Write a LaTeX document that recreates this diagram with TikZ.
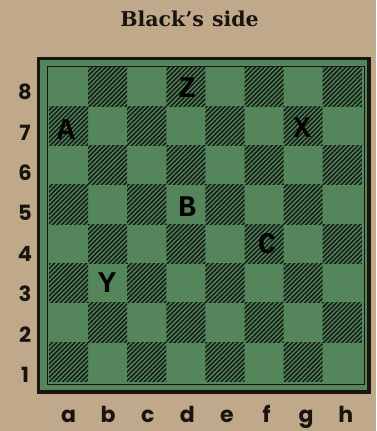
\documentclass[tikz,border=0pt]{standalone}
\usepackage{fontspec}
\usetikzlibrary{patterns.meta}
\newfontfamily\titlefont{DejaVu Serif}
\newfontfamily\labelfont{Poppins}
\newfontfamily\piecefont{Liberation Mono}
\definecolor{paper}{HTML}{BFA98A}
\definecolor{boardgreen}{HTML}{55855A}
\definecolor{hatch}{HTML}{141E16}
\definecolor{ink}{HTML}{1A1410}
\begin{document}
\begin{tikzpicture}[x=1pt,y=-1pt,
  darksq/.style={pattern={Lines[angle=45,distance=3.2pt,line width=1.6pt]},pattern color=hatch},
  ranklab/.style={inner sep=0pt,text=ink,font=\labelfont\bfseries\fontsize{21}{21}\selectfont},
  filelab/.style={inner sep=0pt,anchor=base,text=ink,font=\labelfont\bfseries\fontsize{22}{22}\selectfont},
  piece/.style={inner sep=0pt,text=black,font=\piecefont\bfseries\fontsize{30}{30}\selectfont},
  titlelab/.style={inner sep=0pt,anchor=base,text=ink,font=\titlefont\bfseries\fontsize{20.5}{20.5}\selectfont}
]
\fill[paper] (0,0) rectangle (376,431);
\useasboundingbox (0,0) rectangle (376,431);
% board background
\fill[boardgreen] (38,58) rectangle (369,392);
% dark squares
\foreach \f in {1,...,8}{
  \foreach \r in {1,...,8}{
    \pgfmathtruncatemacro\s{\f+\r}
    \ifodd\s\else
      \fill[darksq] ({49+(\f-1)*39.1},{67+(8-\r)*39.3}) rectangle ++(39.1,39.3);
    \fi
  }
}
% frames
\draw[ink,line width=0.9pt] (47,66) rectangle (364,384);
\draw[ink,line width=3.5pt] (38.5,58.5) rectangle (369,392);
% title
\node[titlelab] (title) at (189.5,27) {Black’s\hspace{8pt}side};
% rank labels
\foreach \r in {1,...,8}{
  \node[ranklab] (rank\r) at (25,{92+(8-\r)*40.4}) {\r};
}
% file labels
\foreach \f/\n in {a/1,b/2,c/3,d/4,e/5,f/6,g/7,h/8}{
  \node[filelab] (file\f) at ({68.5+(\n-1)*39.6},422) {\f};
}
% pieces
\node[piece] (Z) at (187,88) {Z};
\node[piece] (A) at (66,130) {A};
\node[piece] (X) at (302,128) {X};
\node[piece] (B) at (187,207) {B};
\node[piece] (C) at (267,244) {C};
\node[piece] (Y) at (107,283) {Y};
\end{tikzpicture}
\end{document}
